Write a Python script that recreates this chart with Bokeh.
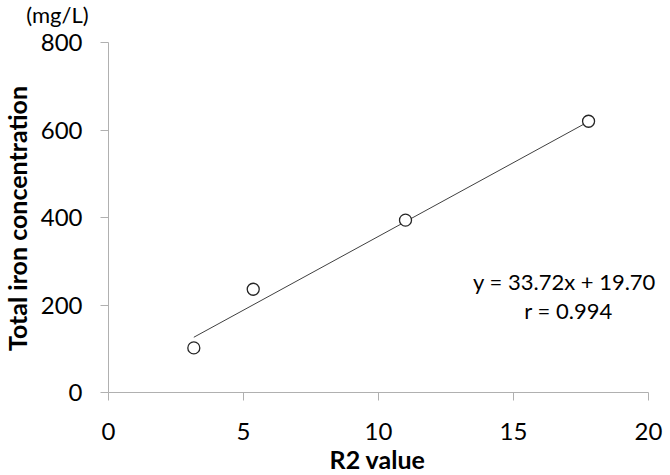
import math
from bokeh.plotting import figure
from bokeh.models import Range1d, Label, FixedTicker, LinearAxis
from bokeh.embed import file_html
from bokeh.resources import INLINE

# data
r2_values = [3.16, 5.36, 11.0, 17.78]
iron_conc = [102, 236, 394, 620]
slope = 33.72
intercept = 19.70
r_value = 0.994
x_ticks = [0, 5, 10, 15, 20]
y_ticks = [0, 200, 400, 600, 800]

FONT = "Lato"
W, H = 668, 474
# plot area placement (canvas pixels): x=0 -> 108, x=20 -> 648 ; y=0 -> 392, y=800 -> 42
PX_X = (648 - 108) / 20.0
PX_Y = (392 - 42) / 800.0
x_start = -108 / PX_X
x_end = 20 + (W - 648) / PX_X
y_start = -(H - 392) / PX_Y
y_end = 800 + 42 / PX_Y

p = figure(width=W, height=H, output_backend="svg", toolbar_location=None,
           x_range=Range1d(x_start, x_end), y_range=Range1d(y_start, y_end),
           x_axis_location=None, y_axis_location=None, min_border=0)
p.outline_line_color = None
p.xgrid.visible = False
p.ygrid.visible = False

xaxis = LinearAxis(fixed_location=0, bounds=(0, 20), ticker=FixedTicker(ticks=x_ticks))
yaxis = LinearAxis(fixed_location=0, bounds=(0, 800), ticker=FixedTicker(ticks=y_ticks))
for ax in (xaxis, yaxis):
    ax.axis_line_color = "#b0b0b0"
    ax.major_tick_line_color = "#b0b0b0"
    ax.minor_tick_line_color = None
    ax.major_tick_in = 0
    ax.major_tick_out = 8
    ax.major_label_text_font = FONT
    ax.major_label_text_font_size = "24px"
    ax.major_label_text_color = "#000000"
xaxis.major_label_standoff = 22
yaxis.major_label_standoff = 18
p.add_layout(xaxis, "below")
p.add_layout(yaxis, "left")

# trend line
fx = [min(r2_values), max(r2_values)]
fy = [slope * v + intercept for v in fx]
p.line(fx, fy, line_color="#404040", line_width=1)

p.scatter(r2_values, iron_conc, marker="circle", size=12, fill_color="white",
          line_color="#262626", line_width=1.3)

def data_label(px, py, text, size, bold=False, angle=0.0):
    # px, py: canvas pixel position (origin top-left) converted to data units
    return Label(x=(px - 108) / PX_X, y=(392 - py) / PX_Y, text=text,
                 text_font=FONT, text_font_size=size, text_align="center",
                 text_baseline="middle", text_color="#000000",
                 text_font_style="bold" if bold else "normal", angle=angle)

p.add_layout(data_label(16, 218, "Total iron concentration", "25px", bold=True, angle=math.pi / 2))
p.add_layout(data_label(377, 458, "R2 value", "25px", bold=True))
p.add_layout(data_label(57, 14, "(mg/L)", "22px"))
p.add_layout(data_label(564, 281, "y = %.2fx + %.2f" % (slope, intercept), "22px"))
p.add_layout(data_label(568, 310, "r = %.3f" % r_value, "22px"))

open("out.html", "w").write(file_html(p, INLINE))
